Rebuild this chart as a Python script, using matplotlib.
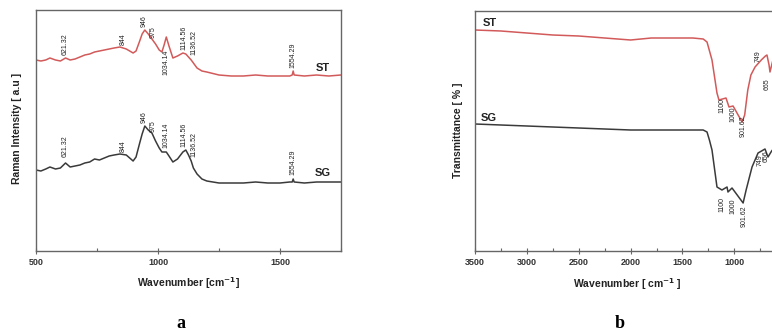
import matplotlib
matplotlib.use("Agg")
import matplotlib.pyplot as plt
from matplotlib.ticker import MultipleLocator, FixedLocator

plt.rcParams['font.family'] = ['Liberation Sans', 'DejaVu Sans']

# ---------------- Panel a: Raman ----------------
raman_wn = [500, 520, 540, 557, 580, 600, 621, 640, 660, 680, 700, 720, 740, 760, 780,
            800, 820, 844, 870, 898, 910, 925, 935, 946, 960, 975, 990, 1005, 1016,
            1025, 1034, 1045, 1061, 1080, 1102, 1114, 1125, 1136, 1145, 1160, 1180,
            1200, 1250, 1300, 1350, 1400, 1450, 1500, 1540, 1550, 1554, 1558, 1600,
            1650, 1700, 1750]
raman_st = [191, 190, 191, 193, 191, 190, 193, 191, 192, 194, 196, 197, 199, 200, 201,
            202, 203, 204, 202, 198, 200, 210, 217, 221, 217, 212, 207, 201, 199,
            206, 214, 205, 193, 195, 198, 197, 194, 191, 188, 183, 180,
            179, 176, 175, 175, 176, 175, 175, 175, 176, 180, 176, 175,
            176, 175, 176]
raman_sg = [81, 80, 82, 84, 82, 83, 88, 84, 85, 86, 88, 89, 92, 91, 93,
            95, 96, 97, 96, 90, 94, 108, 117, 125, 121, 118, 110, 103, 99,
            99, 99, 95, 89, 92, 99, 101, 96, 90, 83, 77, 72,
            70, 68, 68, 68, 69, 68, 68, 69, 69, 72, 69, 68,
            69, 69, 69]

raman_labels = ["621.32", "844", "946", "975", "1034.14", "1114.56", "1136.52", "1554.29"]
raman_lab_x = [619, 856, 943, 980, 1033, 1107, 1146, 1553]
raman_st_lab_y = [196, 206, 224, 213, 201, 201, 196, 183]
raman_st_lab_va = ["bottom", "bottom", "bottom", "bottom", "top", "bottom", "bottom", "bottom"]
raman_sg_lab_y = [94, 99, 128, 119, 103, 104, 94, 76]
raman_ticks = [500, 1000, 1500]
raman_minor = [750, 1250, 1750]

# ---------------- Panel b: FTIR ----------------
ir_st_wn = [3500, 3250, 3000, 2750, 2500, 2250, 2000, 1800, 1600, 1400, 1300, 1263,
            1215, 1167, 1148, 1080, 1051, 1012, 925, 900, 870, 840, 800, 740, 700,
            685, 665, 656, 630, 560, 450]
ir_st = [221, 220, 218, 216, 215, 213, 211, 213, 213, 213, 212, 209,
         191, 158, 151, 153, 144, 145, 129, 136, 161, 176, 184, 191, 195,
         196, 186, 179, 190, 200, 205]
ir_sg_wn = [3500, 3250, 3000, 2750, 2500, 2250, 2000, 1800, 1500, 1300, 1263, 1240,
            1215, 1167, 1119, 1070, 1061, 1022, 915, 886, 829, 771, 704, 675,
            640, 560, 450]
ir_sg = [127, 126, 125, 124, 123, 122, 121, 121, 121, 121, 119, 111,
         101, 64, 61, 64, 59, 63, 48, 61, 84, 98, 102, 94,
         100, 110, 115]

ir_st_labels = ["1100", "1000", "901.62", "749", "665"]
ir_st_lab_x = [1119, 1013, 916, 771, 685]
ir_st_lab_y = [153, 144, 136, 189, 173]
ir_st_lab_va = ["top", "top", "top", "bottom", "top"]
ir_sg_labels = ["1100", "1000", "901.62", "749", "656"]
ir_sg_lab_x = [1119, 1013, 906, 752, 695]
ir_sg_lab_y = [54, 53, 46, 85, 89]
ir_sg_lab_va = ["top", "top", "top", "bottom", "bottom"]
ir_ticks = [3500, 3000, 2500, 2000, 1500, 1000]
ir_minor = [3250, 2750, 2250, 1750, 1250, 750]

RED = "#d25a5a"
BLK = "#3a3a3a"
SPINE = "#666666"

fig = plt.figure(figsize=(7.72, 3.32), dpi=100)

def style_axes(ax):
    for s in ax.spines.values():
        s.set_color(SPINE)
        s.set_linewidth(1.0)
    ax.tick_params(axis='x', which='major', direction='inout', length=4, width=0.8,
                   color=SPINE, labelsize=6.5, pad=3)
    ax.tick_params(axis='x', which='minor', direction='in', length=2, width=0.8, color=SPINE)
    ax.set_yticks([])
    for lab in ax.get_xticklabels():
        lab.set_fontweight('bold')
        lab.set_color("#333333")

# Panel a
axa = fig.add_axes([36/772, 1-251/332, (341-36)/772, (251-10)/332])
axa.plot(raman_wn, raman_st, color=RED, lw=1.1)
axa.plot(raman_wn, raman_sg, color=BLK, lw=1.1)
axa.set_xlim(500, 1750)
axa.set_ylim(0, 241)
axa.xaxis.set_major_locator(FixedLocator(raman_ticks))
axa.xaxis.set_minor_locator(FixedLocator(raman_minor))
style_axes(axa)
for lab, x, y, va in zip(raman_labels, raman_lab_x, raman_st_lab_y, raman_st_lab_va):
    axa.text(x, y, lab, rotation=90, ha='center', va=va, fontsize=5, color="#222222")
for lab, x, y in zip(raman_labels, raman_lab_x, raman_sg_lab_y):
    axa.text(x, y, lab, rotation=90, ha='center', va='bottom', fontsize=5, color="#222222")
axa.text(1676, 183, "ST", ha='center', va='center', fontsize=8, fontweight='bold', color="#222222")
axa.text(1676, 78, "SG", ha='center', va='center', fontsize=8, fontweight='bold', color="#222222")

# Panel b (right part runs past the image edge, as in the reference)
x_right = 475 + (3500 - 450) / 500 * 51.86
axb = fig.add_axes([475/772, 1-251/332, (x_right-475)/772, (251-11)/332])
axb.plot(ir_st_wn, ir_st, color=RED, lw=1.1)
axb.plot(ir_sg_wn, ir_sg, color=BLK, lw=1.1)
axb.set_xlim(3500, 450)
axb.set_ylim(0, 240)
axb.xaxis.set_major_locator(FixedLocator(ir_ticks))
axb.xaxis.set_minor_locator(FixedLocator(ir_minor))
style_axes(axb)
for lab, x, y, va in zip(ir_st_labels, ir_st_lab_x, ir_st_lab_y, ir_st_lab_va):
    axb.text(x, y, lab, rotation=90, ha='center', va=va, fontsize=5, color="#222222")
for lab, x, y, va in zip(ir_sg_labels, ir_sg_lab_x, ir_sg_lab_y, ir_sg_lab_va):
    axb.text(x, y, lab, rotation=90, ha='center', va=va, fontsize=5, color="#222222")
axb.text(3423, 228, "ST", ha='left', va='center', fontsize=8, fontweight='bold', color="#222222")
axb.text(3442, 133, "SG", ha='left', va='center', fontsize=8, fontweight='bold', color="#222222")

# Axis labels and panel letters
fig.text(188/772, 1-283/332, r"Wavenumber [cm$^{\mathbf{-1}}$]", ha='center', va='center',
         fontsize=7.5, fontweight='bold', color="#222222")
fig.text(17/772, 1-128/332, "Raman Intensity [ a.u ]", rotation=90, ha='center', va='center',
         fontsize=7.5, fontweight='bold', color="#222222")
fig.text(627/772, 1-284/332, r"Wavenumber [ cm$^{\mathbf{-1}}$ ]", ha='center', va='center',
         fontsize=7.5, fontweight='bold', color="#222222")
fig.text(458/772, 1-130/332, "Transmittance [ % ]", rotation=90, ha='center', va='center',
         fontsize=7.5, fontweight='bold', color="#222222")
fig.text(181/772, 1-323/332, "a", ha='center', va='center', fontsize=13, fontweight='bold',
         family=['Liberation Serif', 'DejaVu Serif'])
fig.text(620/772, 1-323/332, "b", ha='center', va='center', fontsize=13, fontweight='bold',
         family=['Liberation Serif', 'DejaVu Serif'])

fig.savefig("out.png", dpi=100)
